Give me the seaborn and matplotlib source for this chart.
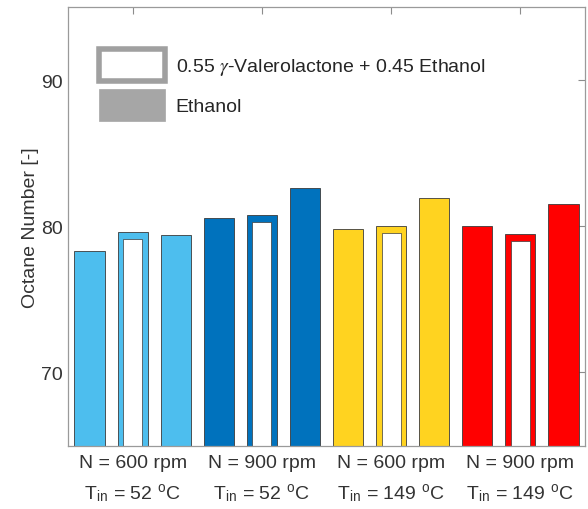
import numpy as np
import pandas as pd
import matplotlib
matplotlib.use("Agg")
import matplotlib.pyplot as plt
from matplotlib.patches import Patch
import seaborn as sns

# Operating points (one group of three bars each)
speeds_rpm = [600, 900, 600, 900]
inlet_temps_c = [52, 52, 149, 149]
group_colors = ["#4DBEEE", "#0072BD", "#FFD320", "#FF0000"]

# Octane numbers for the three bars of every group
octane_left = [78.3, 80.55, 79.8, 80.0]    # ethanol
octane_blend = [79.6, 80.8, 80.0, 79.5]    # 0.55 GVL + 0.45 ethanol (hollow bars)
octane_right = [79.4, 82.6, 81.9, 81.55]   # ethanol

legend_labels = [r"0.55 $\gamma$-Valerolactone + 0.45 Ethanol", "Ethanol"]
y_ticks = [70, 80, 90]

# Long table: one row per bar, in left-to-right order
rows = []
for g in range(len(speeds_rpm)):
    for k, vals in enumerate((octane_left, octane_blend, octane_right)):
        rows.append({"slot": f"s{3 * g + k:02d}", "octane": vals[g],
                     "color": group_colors[g], "hollow": k == 1})
df = pd.DataFrame(rows)
order = list(df["slot"])
palette = dict(zip(df["slot"], df["color"]))

sns.set_theme(style="white")
plt.rcParams["font.family"] = ["Liberation Sans", "DejaVu Sans"]
plt.rcParams["mathtext.fontset"] = "stix"

fig = plt.figure(figsize=(5.88, 5.10), dpi=100)
ax = fig.add_axes([0.1156, 0.1245, 0.8793, 0.8598])

sns.barplot(data=df, x="slot", y="octane", hue="slot", order=order,
            palette=palette, legend=False, width=0.7, saturation=1,
            edgecolor="#3a3a3a", linewidth=0.6, ax=ax)

# White cores turn the blend bars into thick-outlined hollow bars
hollow = df[df["hollow"]]
pos = [order.index(s) for s in hollow["slot"]]
ax.bar(pos, hollow["octane"].to_numpy() - 0.48, width=0.44,
       color="white", edgecolor="#3a3a3a", linewidth=0.5, zorder=3)

ax.set_ylim(65, 95)
ax.set_xlim(-0.5, len(order) - 0.5)
ax.set_yticks(y_ticks)
ax.set_yticklabels([str(t) for t in y_ticks])

centers = [3 * g + 1 for g in range(len(speeds_rpm))]
labels = [f"N = {n} rpm\n" + r"T$_{\mathregular{in}}$ = " + f"{t}" + r" $^{\mathregular{o}}$C"
          for n, t in zip(speeds_rpm, inlet_temps_c)]
ax.set_xticks(centers)
ax.set_xticklabels(labels, linespacing=1.6)
ax.set_xlabel("")
ax.set_ylabel("Octane Number [-]", fontsize=14, color="#333333", labelpad=2)

ax.tick_params(axis="both", direction="in", length=5, width=0.8,
               top=True, right=True, color="#8c8c8c",
               labelsize=14, labelcolor="#333333")
ax.tick_params(axis="x", pad=6)
for sp in ax.spines.values():
    sp.set_color("#9a9a9a")
    sp.set_linewidth(0.9)
    sp.set_zorder(5)

handles = [Patch(facecolor="white", edgecolor="#a0a0a0", linewidth=4.0),
           Patch(facecolor="#a6a6a6", edgecolor="#a6a6a6", linewidth=0.5)]
ax.legend(handles, legend_labels, loc="upper left", bbox_to_anchor=(0.06, 0.905),
          frameon=False, fontsize=14, handlelength=3.4, handleheight=2.15,
          handletextpad=0.55, labelspacing=0.45, borderpad=0, borderaxespad=0)

fig.savefig("out.png", dpi=100)
